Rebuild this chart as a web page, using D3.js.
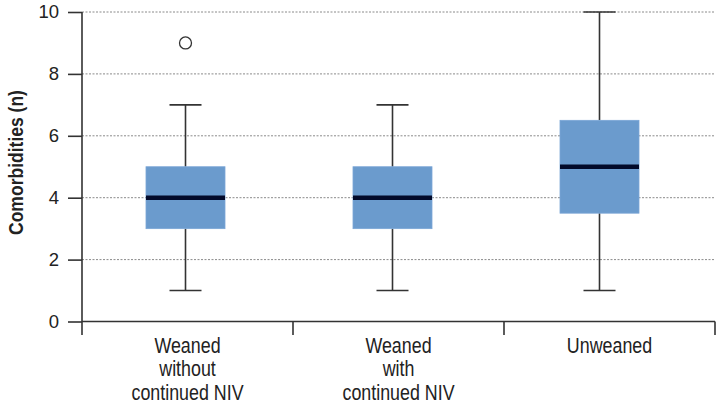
<!DOCTYPE html>
<html>
<head>
<meta charset="utf-8">
<script src="https://cdn.jsdelivr.net/npm/d3@7"></script>
<style>
  html, body { margin: 0; padding: 0; background: #fff; }
  svg { display: block; font-family: "Liberation Sans", Arial, Helvetica, sans-serif; }
</style>
</head>
<body>
<svg id="chart" width="720" height="404"></svg>
<script>
// ---- data ----
const categories = ["Weaned without continued NIV", "Weaned with continued NIV", "Unweaned"];
const categoryLines = [["Weaned", "without", "continued NIV"], ["Weaned", "with", "continued NIV"], ["Unweaned"]];
const whiskerLow = [1, 1, 1];
const q1 = [3, 3, 3.5];
const median = [4, 4, 5];
const q3 = [5, 5, 6.5];
const whiskerHigh = [7, 7, 10];
const outliers = [[9], [], []];
const yTicks = [0, 2, 4, 6, 8, 10];
const yLabel = "Comorbidities (n)";

(function () {
// ---- layout ----
const svg = d3.select("#chart");
const mLeft = 82, mRight = 715, mTop = 12, mBottom = 321.5;

const y = d3.scaleLinear().domain([0, 10]).range([mBottom, mTop]);
const xAxisScale = d3.scaleBand().domain(categories).range([mLeft, mRight]).padding(0);
const xBox = d3.scaleBand().domain(categories).range([mLeft, 703]).padding(0);
const boxW = 79, capW = 32;

// gridlines
svg.append("g").selectAll("line").data(yTicks.filter(d => d > 0)).join("line")
  .attr("x1", mLeft).attr("x2", mRight)
  .attr("y1", d => y(d)).attr("y2", d => y(d))
  .attr("stroke", "#8a8a8a").attr("stroke-width", 1)
  .attr("stroke-dasharray", "2,1.5");

// boxes
const rows = categories.map((c, i) => ({c, i}));
const g = svg.append("g");
rows.forEach(({c, i}) => {
  const cx = xBox(c) + xBox.bandwidth() / 2;
  g.append("line").attr("x1", cx).attr("x2", cx)
    .attr("y1", y(whiskerLow[i])).attr("y2", y(q1[i]))
    .attr("stroke", "#333").attr("stroke-width", 1.6);
  g.append("line").attr("x1", cx).attr("x2", cx)
    .attr("y1", y(q3[i])).attr("y2", y(whiskerHigh[i]))
    .attr("stroke", "#333").attr("stroke-width", 1.6);
  [whiskerLow[i], whiskerHigh[i]].forEach(v => {
    g.append("line").attr("x1", cx - capW / 2).attr("x2", cx + capW / 2)
      .attr("y1", y(v)).attr("y2", y(v))
      .attr("stroke", "#333").attr("stroke-width", 1.6);
  });
  g.append("rect").attr("x", cx - boxW / 2).attr("width", boxW)
    .attr("y", y(q3[i])).attr("height", y(q1[i]) - y(q3[i]))
    .attr("fill", "#6b9bcd").attr("stroke", "#7aa6d6").attr("stroke-width", 0.8);
  g.append("line").attr("x1", cx - boxW / 2).attr("x2", cx + boxW / 2)
    .attr("y1", y(median[i])).attr("y2", y(median[i]))
    .attr("stroke", "#020a2a").attr("stroke-width", 4.5);
  outliers[i].forEach(v => {
    g.append("circle").attr("cx", cx).attr("cy", y(v)).attr("r", 6)
      .attr("fill", "#fff").attr("stroke", "#333").attr("stroke-width", 1.3);
  });
});

// y axis
const yAxis = d3.axisLeft(y).tickValues(yTicks).tickSize(14).tickPadding(9).tickFormat(d3.format("d"));
const yg = svg.append("g").attr("transform", `translate(${mLeft},0)`).call(yAxis);
yg.select(".domain").remove();
yg.selectAll(".tick line").attr("stroke", "#333").attr("stroke-width", 1.6);
yg.selectAll(".tick text").attr("font-size", 18.5).attr("fill", "#222")
  .attr("font-family", "Liberation Sans, Arial, sans-serif");
svg.append("line").attr("x1", mLeft).attr("x2", mLeft).attr("y1", mTop).attr("y2", mBottom + 13.5)
  .attr("stroke", "#333").attr("stroke-width", 1.6);

// x axis
const tickPos = categories.map(c => xAxisScale(c)).concat([mRight]);
svg.append("line").attr("x1", mLeft).attr("x2", mRight).attr("y1", mBottom).attr("y2", mBottom)
  .attr("stroke", "#333").attr("stroke-width", 1.6);
svg.append("g").selectAll("line").data(tickPos.slice(1)).join("line")
  .attr("x1", d => d).attr("x2", d => d).attr("y1", mBottom).attr("y2", mBottom + 13.5)
  .attr("stroke", "#333").attr("stroke-width", 1.6);

// x labels (condensed sans)
rows.forEach(({c, i}) => {
  const cx = xAxisScale(c) + xAxisScale.bandwidth() / 2;
  categoryLines[i].forEach((line, k) => {
    svg.append("text")
      .attr("transform", `translate(${cx},${352.5 + k * 23.5}) scale(0.83,1)`)
      .attr("text-anchor", "middle")
      .attr("font-size", 21.5).attr("fill", "#222").text(line);
  });
});

// y label
svg.append("text")
  .attr("transform", `translate(22.5,162.5) rotate(-90) scale(0.834,1)`)
  .attr("text-anchor", "middle").attr("font-size", 21).attr("font-weight", "bold")
  .attr("fill", "#222").text(yLabel);
})();
</script>
</body>
</html>
